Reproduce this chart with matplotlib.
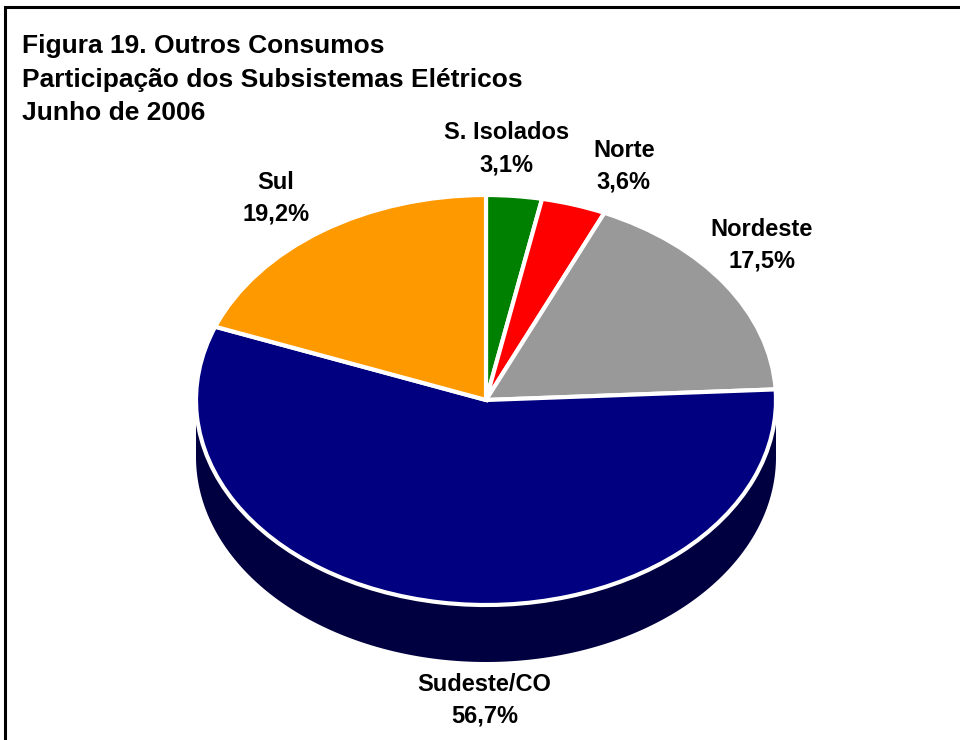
import numpy as np
import matplotlib.pyplot as plt
from matplotlib.patches import Rectangle
from matplotlib.colors import to_rgb

# ==========================
# Data
# ==========================

subsistemas = ["S. Isolados", "Norte", "Nordeste", "Sudeste/CO", "Sul"]
participacao = [3.1, 3.6, 17.5, 56.7, 19.2]
rotulos = ["3,1%", "3,6%", "17,5%", "56,7%", "19,2%"]
cores = ["#008000", "#FF0000", "#999999", "#000080", "#FF9900"]

# label anchor positions (data units, radius 1 = pie)
label_pos = [(0.07, 1.225), (0.475, 1.14), (0.95, 0.755), (-0.005, -1.465), (-0.725, 0.985)]

# ==========================
# Geometry (pixels)
# ==========================

W, H = 960, 740
CX, CY = 486, 400       # pie centre
RX, RY = 290, 205       # ellipse radii
DEPTH = 57              # thickness of the 3D side

plt.rcParams["font.family"] = ["Liberation Sans", "DejaVu Sans"]
plt.rcParams["font.weight"] = "bold"

fig = plt.figure(figsize=(W / 100, H / 100), dpi=100)
ax = fig.add_axes([0, 0, 1, 1])

depth = DEPTH / RY

# ==========================
# Side walls (front half only)
# ==========================

total = sum(participacao)
start = 90.0
for val, cor in zip(participacao, cores):
    end = start - 360.0 * val / total
    a0, a1 = max(end, -180.0), min(start, 0.0)
    if a0 < a1:
        t = np.radians(np.linspace(a0, a1, 200))
        xs = np.concatenate([np.cos(t), np.cos(t[::-1])])
        ys = np.concatenate([np.sin(t), np.sin(t[::-1]) - depth])
        dark = tuple(c * 0.5 for c in to_rgb(cor))
        ax.fill(xs, ys, color=dark, lw=0, zorder=1)
    start = end

# ==========================
# Top face
# ==========================

ax.pie(participacao, colors=cores, startangle=90, counterclock=False,
       radius=1, center=(0, 0), frame=True,
       wedgeprops=dict(edgecolor="white", linewidth=3, zorder=2))
ax.set_xlim(-CX / RX, (W - CX) / RX)
ax.set_ylim(-(H - CY) / RY, CY / RY)
ax.set_aspect("auto")
ax.axis("off")

# ==========================
# Labels
# ==========================

for nome, rot, (lx, ly) in zip(subsistemas, rotulos, label_pos):
    ax.text(lx, ly, f"{nome}\n{rot}", ha="center", va="center",
            fontsize=17, fontweight="bold", linespacing=1.5)

# ==========================
# Title and frame
# ==========================

fig.text(22 / W, 1 - 34 / H,
         "Figura 19. Outros Consumos\nParticipação dos Subsistemas Elétricos\nJunho de 2006",
         ha="left", va="top", fontsize=19, fontweight="bold", linespacing=1.5)

fig.patches.append(Rectangle((5 / W, -0.1), 1.2, 1.1 - 7 / H,
                             transform=fig.transFigure, fill=False,
                             edgecolor="black", linewidth=2.2))

fig.savefig("out.png", dpi=100)
